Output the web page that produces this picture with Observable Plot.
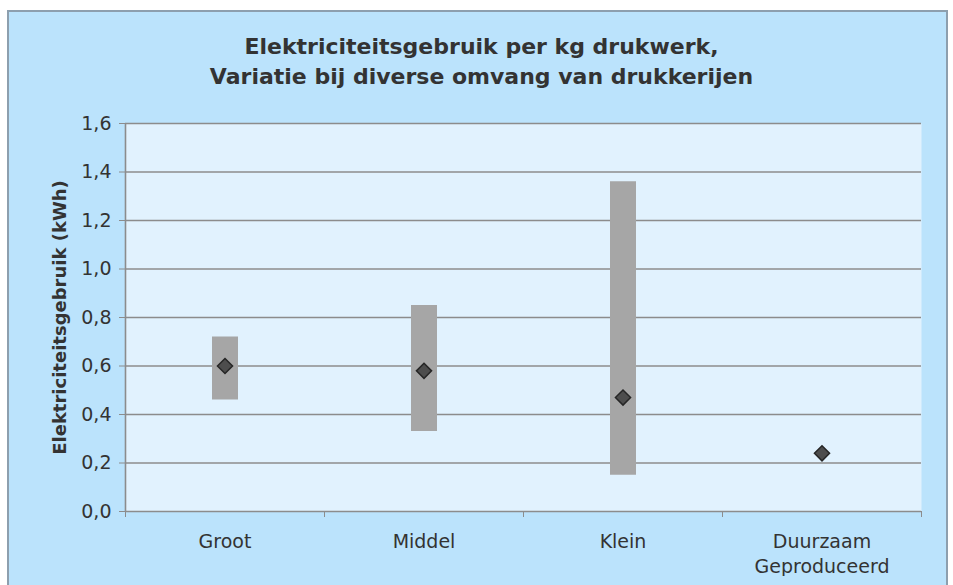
<!DOCTYPE html>
<html>
<head>
<meta charset="utf-8">
<script src="https://cdn.jsdelivr.net/npm/d3@7"></script>
<script src="https://cdn.jsdelivr.net/npm/@observablehq/plot@0.6"></script>
<style>
  html, body { margin: 0; padding: 0; background: #ffffff; }
  #box {
    position: absolute; left: 7px; top: 10px; width: 941px; height: 580px;
    background: #bbe3fc; border: 2px solid #8d9fae; box-sizing: border-box; overflow: hidden;
    font-family: "DejaVu Sans", sans-serif;
  }
  #title {
    position: absolute; left: 0; top: 20px; width: 945px; text-align: center;
    font-weight: bold; font-size: 22px; line-height: 30px; color: #333333;
  }
  #chart { position: absolute; left: 0; top: 98px; }
</style>
</head>
<body>
<div id="box">
  <div id="title">Elektriciteitsgebruik per kg drukwerk,<br>Variatie bij diverse omvang van drukkerijen</div>
  <div id="chart"></div>
</div>
<script>
const categories = ["Groot", "Middel", "Klein", "Duurzaam\nGeproduceerd"];
const lowValues  = [0.46, 0.33, 0.15, null];
const highValues = [0.72, 0.85, 1.36, null];
const midValues  = [0.60, 0.58, 0.47, 0.24];
const yTicks = [0, 0.2, 0.4, 0.6, 0.8, 1.0, 1.2, 1.4, 1.6];

const rows = categories.map((c, i) => ({
  cat: c, pos: i + 0.5, low: lowValues[i], high: highValues[i], mid: midValues[i]
}));
const ranged = rows.filter(d => d.low != null && d.high != null);
const boundaries = d3.range(categories.length + 1);

const fmt = d => d.toFixed(1).replace(".", ",");
const gray = "#8c8c8c";

const plot = Plot.plot({
  width: 937,
  height: 466,
  marginLeft: 116,
  marginRight: 25,
  marginTop: 13,
  marginBottom: 65,
  style: {fontFamily: "'DejaVu Sans', sans-serif", fontSize: "19px", color: "#333333", background: "transparent"},
  x: {domain: [0, categories.length], axis: null},
  y: {domain: [0, 1.6], axis: null},
  marks: [
    Plot.frame({fill: "#e1f2fe", stroke: "none"}),
    Plot.gridY(yTicks, {stroke: gray, strokeOpacity: 1, strokeWidth: 1.6}),
    Plot.ruleX([0], {stroke: gray, strokeWidth: 1.6}),
    Plot.axisY({ticks: yTicks, tickSize: 6, tickPadding: 8, stroke: gray, tickFormat: fmt, fontSize: 19, fill: "#333333",
      label: "Elektriciteitsgebruik (kWh)", labelAnchor: "center", labelArrow: "none", labelOffset: 72}),
    Plot.axisX({ticks: boundaries, tickSize: 6, stroke: gray, tickFormat: () => "", label: null}),
    Plot.ruleX(ranged, {x: "pos", y1: "low", y2: "high", stroke: "#a6a6a6", strokeWidth: 26}),
    Plot.dot(rows, {x: "pos", y: "mid", symbol: "diamond2", r: 6.8, fill: "#4d4d4d", stroke: "#262626", strokeWidth: 1.5}),
    Plot.text(rows, {x: "pos", y: 0, text: "cat", dy: 19, lineAnchor: "top", lineHeight: 1.32, fontSize: 19, fill: "#333333"})
  ]
});
document.getElementById("chart").appendChild(plot);
// bold y label
plot.querySelectorAll("g[aria-label='y-axis label'] text").forEach(t => { t.style.fontWeight = "bold"; t.style.fontSize = "18px"; });
</script>
</body>
</html>
